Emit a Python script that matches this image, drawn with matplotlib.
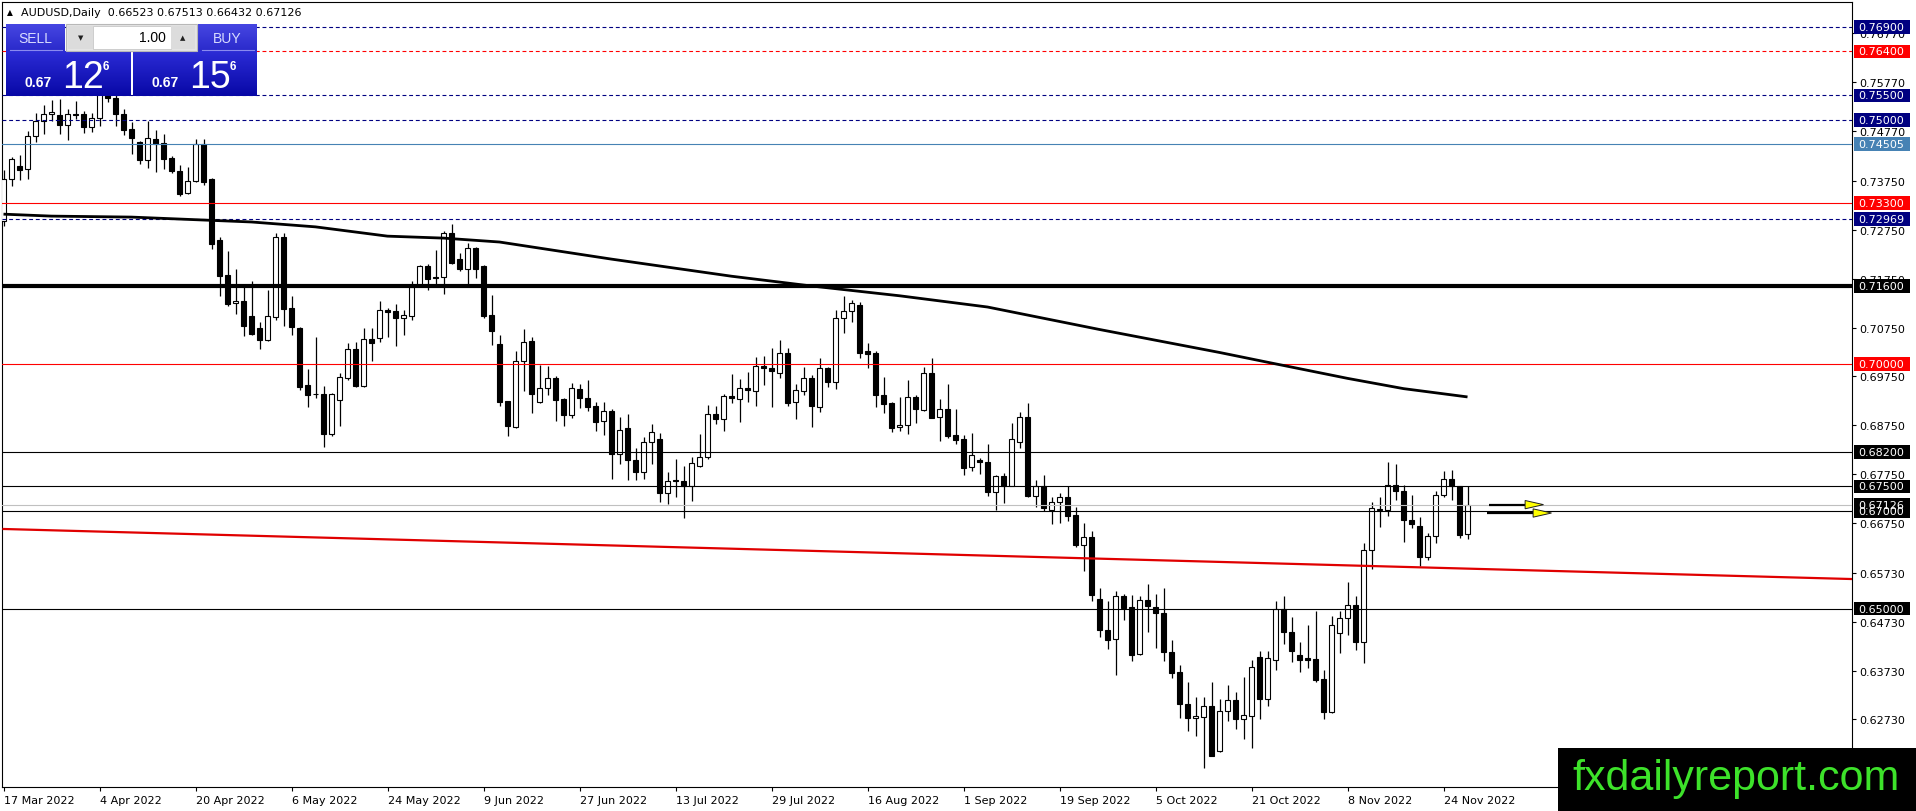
import numpy as np
import matplotlib
matplotlib.use('Agg')
import matplotlib.pyplot as plt
from matplotlib.patches import Rectangle, Polygon
import matplotlib.transforms as mtransforms

# ---------------- data ----------------
opens = [0.7294,0.7379,0.7405,0.7399,0.7466,0.7497,0.7511,0.7510,0.7490,0.7512,
         0.7512,0.7485,0.7503,0.7560,0.7544,0.7512,0.7481,0.7454,0.7418,0.7461,
         0.7453,0.7422,0.7395,0.7350,0.7374,0.7451,0.7378,0.7254,0.7183,0.7125,
         0.7130,0.7099,0.7074,0.7050,0.7097,0.7261,0.7114,0.7074,0.6957,0.6940,
         0.6940,0.6857,0.6927,0.6972,0.7031,0.6955,0.7052,0.7053,0.7111,0.7108,
         0.7095,0.7099,0.7163,0.7200,0.7179,0.7178,0.7268,0.7215,0.7195,0.7238,
         0.7200,0.7101,0.7041,0.6924,0.6872,0.7006,0.7047,0.6922,0.6951,0.6971,
         0.6929,0.6897,0.6949,0.6931,0.6914,0.6883,0.6904,0.6816,0.6869,0.6804,
         0.6779,0.6840,0.6847,0.6736,0.6763,0.6762,0.6751,0.6791,0.6811,0.6899,
         0.6888,0.6934,0.6929,0.6951,0.6946,0.6996,0.6992,0.6981,0.7022,0.6922,
         0.6946,0.6972,0.6912,0.6992,0.6964,0.7094,0.7108,0.7121,0.7026,0.7023,
         0.6937,0.6921,0.6872,0.6876,0.6933,0.6907,0.6983,0.6891,0.6908,0.6856,
         0.6847,0.6789,0.6804,0.6799,0.6738,0.6771,0.6751,0.6840,0.6891,0.6730,
         0.6750,0.6702,0.6719,0.6728,0.6692,0.6631,0.6647,0.6520,0.6457,0.6438,
         0.6525,0.6504,0.6406,0.6518,0.6504,0.6490,0.6411,0.6370,0.6305,0.6276,
         0.6278,0.6300,0.6208,0.6291,0.6312,0.6273,0.6281,0.6400,0.6314,0.6395,
         0.6499,0.6453,0.6405,0.6399,0.6397,0.6356,0.6289,0.6449,0.6480,0.6508,
         0.6432,0.6620,0.6702,0.6702,0.6753,0.6741,0.6682,0.6668,0.6606,0.6648,
         0.6733,0.6766,0.6750,0.66523]
highs = [0.7398,0.7423,0.7428,0.7478,0.7515,0.7530,0.7541,0.7543,0.7522,0.7539,
         0.7519,0.7515,0.7570,0.7620,0.7575,0.7522,0.7496,0.7457,0.7498,0.7480,
         0.7471,0.7425,0.7408,0.7403,0.7461,0.7461,0.7382,0.7260,0.7232,0.7195,
         0.7164,0.7170,0.7086,0.7152,0.7268,0.7268,0.7140,0.7077,0.6990,0.7055,
         0.6956,0.6942,0.6983,0.7043,0.7045,0.7075,0.7075,0.7130,0.7116,0.7123,
         0.7111,0.7170,0.7202,0.7206,0.7234,0.7272,0.7286,0.7227,0.7249,0.7239,
         0.7202,0.7141,0.7060,0.6925,0.7028,0.7072,0.7055,0.6998,0.6996,0.6975,
         0.6930,0.6962,0.6960,0.6968,0.6922,0.6922,0.6908,0.6891,0.6898,0.6828,
         0.6850,0.6878,0.6859,0.6780,0.6806,0.6791,0.6811,0.6857,0.6916,0.6914,
         0.6939,0.6979,0.6970,0.6985,0.7014,0.7016,0.7034,0.7050,0.7034,0.6960,
         0.6994,0.6977,0.7013,0.6994,0.7110,0.7139,0.7131,0.7128,0.7043,0.7028,
         0.6973,0.6923,0.6932,0.6968,0.6936,0.6994,0.7012,0.6929,0.6960,0.6908,
         0.6855,0.6859,0.6809,0.6837,0.6773,0.6777,0.6880,0.6902,0.6921,0.6764,
         0.6773,0.6728,0.6736,0.6750,0.6707,0.6675,0.6659,0.6542,0.6516,0.6535,
         0.6530,0.6528,0.6525,0.6550,0.6530,0.6543,0.6436,0.6384,0.6349,0.6318,
         0.6318,0.6349,0.6315,0.6344,0.6329,0.6359,0.6395,0.6414,0.6414,0.6515,
         0.6525,0.6482,0.6431,0.6466,0.6494,0.6375,0.6485,0.6494,0.6554,0.6525,
         0.6634,0.6719,0.6728,0.6799,0.6796,0.6753,0.6732,0.6687,0.6655,0.6741,
         0.6782,0.6783,0.6751,0.67513]
lows = [0.7283,0.7364,0.7376,0.7378,0.7454,0.7471,0.7498,0.7471,0.7459,0.7502,
        0.7474,0.7476,0.7487,0.7537,0.7488,0.7468,0.7430,0.7410,0.7401,0.7394,
        0.7399,0.7391,0.7345,0.7348,0.7372,0.7367,0.7236,0.7139,0.7120,0.7103,
        0.7058,0.7060,0.7031,0.7048,0.7090,0.7079,0.7060,0.6947,0.6913,0.6931,
        0.6831,0.6854,0.6874,0.6968,0.6953,0.6953,0.7006,0.7045,0.7056,0.7038,
        0.7060,0.7090,0.7161,0.7152,0.7163,0.7144,0.7204,0.7190,0.7163,0.7176,
        0.7094,0.7040,0.6914,0.6854,0.6869,0.6946,0.6900,0.6921,0.6937,0.6884,
        0.6873,0.6889,0.6910,0.6905,0.6864,0.6856,0.6766,0.6796,0.6764,0.6764,
        0.6766,0.6796,0.6717,0.6713,0.6728,0.6685,0.6721,0.6789,0.6806,0.6878,
        0.6863,0.6921,0.6882,0.6923,0.6915,0.6957,0.6913,0.6971,0.6915,0.6888,
        0.6937,0.6872,0.6902,0.6954,0.6949,0.7064,0.7087,0.7012,0.6992,0.6913,
        0.6900,0.6861,0.6864,0.6857,0.6880,0.6905,0.6889,0.6842,0.6848,0.6837,
        0.6773,0.6782,0.6775,0.6730,0.6702,0.6715,0.6750,0.6828,0.6729,0.6707,
        0.6700,0.6673,0.6675,0.6680,0.6625,0.6576,0.6515,0.6441,0.6417,0.6365,
        0.6477,0.6393,0.6404,0.6453,0.6419,0.6392,0.6358,0.6277,0.6250,0.6239,
        0.6174,0.6199,0.6206,0.6269,0.6254,0.6233,0.6214,0.6274,0.6301,0.6375,
        0.6427,0.6391,0.6371,0.6378,0.6350,0.6274,0.6286,0.6409,0.6446,0.6416,
        0.6389,0.6581,0.6666,0.6689,0.6723,0.6637,0.6664,0.6588,0.6600,0.6634,
        0.6728,0.6723,0.6644,0.66432]
closes = [0.7379,0.7419,0.7398,0.7466,0.7498,0.7512,0.7517,0.7490,0.7512,0.7510,
          0.7485,0.7503,0.7560,0.7544,0.7512,0.7480,0.7462,0.7417,0.7462,0.7451,
          0.7420,0.7396,0.7348,0.7374,0.7451,0.7372,0.7245,0.7181,0.7123,0.7130,
          0.7079,0.7062,0.7050,0.7098,0.7261,0.7113,0.7077,0.6953,0.6937,0.6938,
          0.6857,0.6940,0.6973,0.7031,0.6955,0.7052,0.7044,0.7111,0.7107,0.7095,
          0.7101,0.7157,0.7200,0.7174,0.7177,0.7268,0.7208,0.7195,0.7238,0.7195,
          0.7099,0.7067,0.6923,0.6873,0.7006,0.7045,0.6938,0.6951,0.6971,0.6927,
          0.6897,0.6951,0.6930,0.6912,0.6881,0.6904,0.6816,0.6866,0.6803,0.6779,
          0.6840,0.6861,0.6736,0.6760,0.6760,0.6751,0.6798,0.6811,0.6899,0.6888,
          0.6934,0.6930,0.6951,0.6947,0.6996,0.6992,0.6987,0.7022,0.6921,0.6947,
          0.6972,0.6915,0.6992,0.6964,0.7094,0.7108,0.7125,0.7023,0.7021,0.6937,
          0.6919,0.6869,0.6876,0.6932,0.6908,0.6983,0.6890,0.6908,0.6854,0.6844,
          0.6788,0.6814,0.6799,0.6738,0.6771,0.6750,0.6846,0.6891,0.6730,0.6750,
          0.6705,0.6717,0.6728,0.6690,0.6631,0.6647,0.6528,0.6457,0.6436,0.6525,
          0.6501,0.6404,0.6518,0.6505,0.6490,0.6411,0.6368,0.6305,0.6276,0.6280,
          0.6300,0.6199,0.6291,0.6312,0.6273,0.6283,0.6380,0.6314,0.6398,0.6499,
          0.6453,0.6414,0.6395,0.6395,0.6354,0.6289,0.6466,0.6480,0.6508,0.6432,
          0.6620,0.6705,0.6704,0.6753,0.6741,0.6682,0.6674,0.6606,0.6649,0.6733,
          0.6766,0.6750,0.6650,0.67126]

# 200-day moving average read at selected bars
ma_bars = [0, 6, 16, 22, 31, 39, 48, 55, 62, 76, 91, 101, 112, 123, 137, 152, 158, 168, 175, 183]
ma_vals = [0.7307, 0.7303, 0.7301, 0.7297, 0.7291, 0.7281, 0.7262, 0.7258, 0.7250, 0.7215,
           0.7180, 0.7160, 0.7140, 0.7117, 0.7071, 0.7024, 0.7004, 0.6971, 0.6950, 0.6933]

# descending red trend line (two anchors)
trend_bars = [0, 231]
trend_vals = [0.66628, 0.65604]

# horizontal levels
level_prices = [0.76900, 0.76400, 0.75500, 0.75000, 0.74505, 0.73300, 0.72969,
                0.71600, 0.70000, 0.68200, 0.67500, 0.67000, 0.65000]
level_colors = ['#000080', '#ff0000', '#000080', '#000080', '#4682b4', '#ff0000', '#000080',
                '#000000', '#ff0000', '#000000', '#000000', '#000000', '#000000']
level_kinds = ['dash', 'dash', 'dash', 'dash', 'solid', 'solid', 'dash',
               'thick', 'solid', 'solid', 'solid', 'solid', 'solid']
current_price = 0.67126

ytick_vals = [0.76770, 0.75770, 0.74770, 0.73750, 0.72750, 0.71750, 0.70750, 0.69750,
              0.68750, 0.67750, 0.66750, 0.65730, 0.64730, 0.63730, 0.62730]
date_bars = [0, 12, 24, 36, 48, 60, 72, 84, 96, 108, 120, 132, 144, 156, 168, 180]
date_labels = ['17 Mar 2022', '4 Apr 2022', '20 Apr 2022', '6 May 2022', '24 May 2022',
               '9 Jun 2022', '27 Jun 2022', '13 Jul 2022', '29 Jul 2022', '16 Aug 2022',
               '1 Sep 2022', '19 Sep 2022', '5 Oct 2022', '21 Oct 2022', '8 Nov 2022',
               '24 Nov 2022']

# ---------------- figure ----------------
W, H = 1916, 812
fig = plt.figure(figsize=(W / 100, H / 100), dpi=100)
fig.patch.set_facecolor('white')
L, R, T, B = 2, 1852, 3, 788
ax = fig.add_axes([L / W, (H - B) / H, (R - L) / W, (B - T) / H])
ax.set_facecolor('white')

x = np.arange(len(opens))
o = np.array(opens); h = np.array(highs); l = np.array(lows); c = np.array(closes)

ax.vlines(x, l, h, color='black', lw=0.9, zorder=3)
bottoms = np.minimum(o, c)
heights = np.maximum(np.abs(c - o), 0.00012)
fills = ['white' if cc >= oo else 'black' for oo, cc in zip(o, c)]
ax.bar(x, heights, bottom=bottoms, width=0.58, color=fills, edgecolor='black',
       linewidth=0.8, zorder=4)

# levels
for p, col, kind in zip(level_prices, level_colors, level_kinds):
    if kind == 'dash':
        ln = ax.axhline(p, color=col, lw=0.8, zorder=6)
        ln.set_dashes([3.5, 2.5])
    elif kind == 'thick':
        ax.axhline(p, color=col, lw=3.0, zorder=6)
    else:
        ax.axhline(p, color=col, lw=0.8, zorder=6)
ax.axhline(current_price, color='#c0c0c0', lw=0.8, zorder=5.5)

ax.plot(trend_bars, trend_vals, color='#e00000', lw=1.6, zorder=6)
ax.plot(ma_bars, ma_vals, color='black', lw=2.0, zorder=7, solid_capstyle='butt',
        solid_joinstyle='round')

# arrows near the last bar
for (xs, xe, xt, py) in [(185.7, 190.2, 192.5, 0.67126), (185.4, 191.2, 193.5, 0.66955)]:
    ax.plot([xs, xe], [py, py], color='black', lw=1.6, zorder=8, solid_capstyle='butt')
    ax.add_patch(Polygon([[xe, py + 0.00085], [xe, py - 0.00085], [xt, py]],
                         closed=True, facecolor='#ffff00', edgecolor='#202020',
                         lw=0.7, zorder=9))

ax.set_xlim(-0.1875, 231.06)
ax.set_ylim(0.613484, 0.774113)

for s in ax.spines.values():
    s.set_color('black'); s.set_linewidth(0.8)

ax.yaxis.tick_right()
ax.set_yticks(ytick_vals)
ax.set_yticklabels([f'{v:.5f}' for v in ytick_vals])
ax.tick_params(axis='y', which='both', direction='out', length=3, width=0.8,
               pad=2.2, labelsize=8, colors='black')
ax.set_xticks(date_bars)
ax.set_xticklabels(date_labels)
for tl in ax.get_xticklabels():
    tl.set_ha('left')
ax.tick_params(axis='x', direction='out', length=3, width=0.8, pad=2.5, labelsize=8)

# right-side price boxes
bt = mtransforms.blended_transform_factory(ax.transAxes, ax.transData)
box_x0 = (1854 - L) / (R - L)
box_w = 56 / (R - L)
half_h = 0.00138
price_boxes = list(zip(level_prices, level_colors))
price_boxes.insert(11, (current_price, '#000000'))
for p, col in price_boxes:
    ax.add_patch(Rectangle((box_x0, p - half_h), box_w, 2 * half_h, transform=bt,
                           facecolor=col, edgecolor='none', clip_on=False, zorder=10))
    ax.text(box_x0 + 4 / (R - L), p, f'{p:.5f}', transform=bt, color='white',
            fontsize=8, va='center', ha='left', clip_on=False, zorder=11)

# ---------------- overlay (panel, header, logo) ----------------
ov = fig.add_axes([0, 0, 1, 1], zorder=20)
ov.patch.set_alpha(0)
ov.axis('off')


def grad_box(x0, y0, x1, y1, top, bot):
    t = np.array(matplotlib.colors.to_rgb(top)); b = np.array(matplotlib.colors.to_rgb(bot))
    g = np.linspace(0, 1, 64)[:, None, None]
    img = t * (1 - g) + b * g
    ov.imshow(img, extent=(x0, x1, y1, y0), aspect='auto', origin='upper',
              interpolation='bilinear', zorder=1)


# buttons
grad_box(6, 25, 65, 52, '#4646e2', '#2a2acb')
grad_box(198, 25, 257, 52, '#4646e2', '#2a2acb')
ov.plot([10, 62], [50.5, 50.5], color='#8a8af0', lw=0.8, zorder=3)
ov.plot([202, 254], [50.5, 50.5], color='#8a8af0', lw=0.8, zorder=3)
ov.text(35.5, 39, 'SELL', color='#d8dcff', fontsize=10, family='Liberation Sans',
        ha='center', va='center', zorder=4)
ov.text(227.5, 39, 'BUY', color='#d8dcff', fontsize=10, family='Liberation Sans',
        ha='center', va='center', zorder=4)
# spin control
ov.add_patch(Rectangle((66, 25), 131, 27, facecolor='#e4e4e4', edgecolor='#b8b8b8', lw=0.8, zorder=2))
ov.add_patch(Rectangle((68, 27), 25, 23, facecolor='#dcdcdc', edgecolor='none', zorder=3))
ov.add_patch(Rectangle((93, 27), 78, 23, facecolor='white', edgecolor='#c8c8c8', lw=0.6, zorder=3))
ov.add_patch(Rectangle((171, 27), 24, 23, facecolor='#dcdcdc', edgecolor='none', zorder=3))
ov.text(80.5, 38.5, '\u25bc', fontsize=5, ha='center', va='center', color='#202020', zorder=4)
ov.text(183, 38, '\u25b2', fontsize=5, ha='center', va='center', color='#202020', zorder=4)
ov.text(166, 38.5, '1.00', fontsize=10, family='Liberation Sans', ha='right', va='center',
        color='black', zorder=4)
# price boxes
grad_box(6, 52, 131, 97, '#2c2cd6', '#0808a6')
grad_box(133, 52, 257, 97, '#2c2cd6', '#0808a6')
for bx, big in [(0, '12'), (127, '15')]:
    ov.text(25 + bx, 87, '0.67', color='white', fontsize=10, fontweight='bold',
            family='Liberation Sans', ha='left', va='baseline', zorder=4)
    ov.text(62 + bx, 88, big, color='white', fontsize=27, family='Liberation Sans',
            ha='left', va='baseline', zorder=4)
    ov.text(103 + bx, 70, '6', color='white', fontsize=8.5, fontweight='bold',
            family='Liberation Sans', ha='left', va='baseline', zorder=4)

# header
ov.text(7, 12.5, '\u25b2', fontsize=5.5, ha='left', va='center', color='black', zorder=4)
ov.text(21, 12.5, 'AUDUSD,Daily  0.66523 0.67513 0.66432 0.67126', fontsize=8,
        ha='left', va='center', color='black', zorder=4)

# logo
ov.add_patch(Rectangle((1558, 749), 358, 63, facecolor='black', edgecolor='none', zorder=5))
ov.text(1736, 790, 'fxdailyreport.com', color='#3de22a', fontsize=31,
        family='Liberation Sans', ha='center', va='baseline', zorder=6)

ov.set_xlim(0, W)
ov.set_ylim(H, 0)

fig.savefig('out.png', dpi=100, facecolor='white')
